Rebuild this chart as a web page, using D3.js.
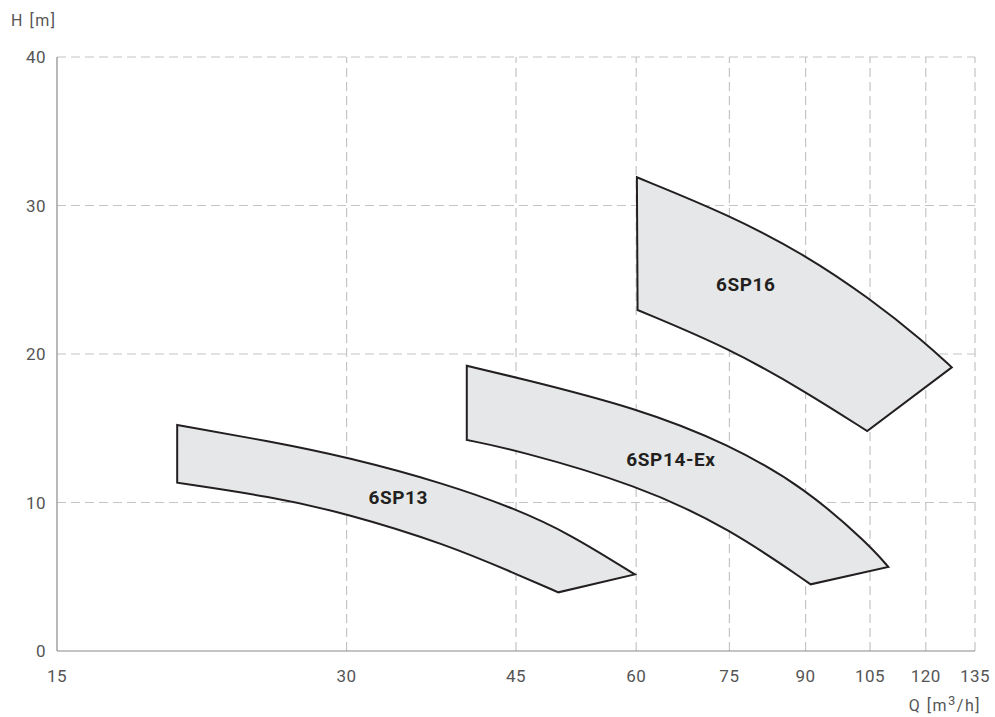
<!DOCTYPE html>
<html>
<head>
<meta charset="utf-8">
<script src="https://cdn.jsdelivr.net/npm/d3@7"></script>
<style>
  html, body { margin: 0; padding: 0; background: #fff; }
  svg { display: block; }
  text { font-family: Roboto, "DejaVu Sans", sans-serif; }
</style>
</head>
<body>
<svg id="chart" width="995" height="717"></svg>
<script>
// ---- data ----
const xTicks = [15, 30, 45, 60, 75, 90, 105, 120, 135];
const yTicks = [0, 10, 20, 30, 40];

const sp13Top    = [[20.0, 15.22], [25.0, 14.11], [30, 13.07], [38.1, 11.25], [45, 9.56], [51.1, 7.91], [59.8, 5.16]];
const sp13Bottom = [[20.0, 11.33], [25.0, 10.40], [30, 9.27], [38.1, 7.18], [45, 5.19], [49.8, 3.95]];

const sp14Top    = [[40.0, 19.21], [45, 18.43], [60.2, 16.36], [75, 13.91], [90, 10.96], [104.8, 7.15], [109.7, 5.66]];
const sp14Bottom = [[40.0, 14.21], [45, 13.54], [60.2, 11.18], [75, 8.26], [91.1, 4.49]];

const sp16Top    = [[60.1, 31.9], [75, 29.36], [90, 26.67], [104.9, 23.75], [119.5, 20.83], [127.7, 19.1]];
const sp16Bottom = [[60.2, 22.96], [75, 20.38], [90, 17.46], [104.3, 14.81]];

const seriesNames = ["6SP13", "6SP14-Ex", "6SP16"];
const labelPos = [[33.95, 10.34], [65.2, 12.93], [78, 24.7]];

// ---- chart ----
const svg = d3.select("#chart");
const x = d3.scaleLog().domain([15, 135]).range([57, 975]);
const y = d3.scaleLinear().domain([0, 40]).range([651, 57]);

const gridColor = "#c4c4c4";
// grid
svg.append("g").selectAll("line").data(xTicks.slice(1)).join("line")
  .attr("x1", d => x(d)).attr("x2", d => x(d))
  .attr("y1", y(0)).attr("y2", y(40))
  .attr("stroke", gridColor).attr("stroke-width", 1.2).attr("stroke-dasharray", "9,5");
svg.append("g").selectAll("line").data(yTicks.slice(1)).join("line")
  .attr("x1", x(15)).attr("x2", x(135))
  .attr("y1", d => y(d)).attr("y2", d => y(d))
  .attr("stroke", gridColor).attr("stroke-width", 1.2).attr("stroke-dasharray", "9,5");

// axes lines
svg.append("line").attr("x1", x(15)).attr("x2", x(15)).attr("y1", y(0)).attr("y2", y(40))
  .attr("stroke", "#8a8a8a").attr("stroke-width", 1.2);
svg.append("line").attr("x1", x(15)).attr("x2", x(135)).attr("y1", y(0)).attr("y2", y(0))
  .attr("stroke", "#8a8a8a").attr("stroke-width", 1.2);

// tick labels
svg.append("g").selectAll("text").data(xTicks).join("text")
  .attr("x", d => x(d)).attr("y", 682)
  .attr("text-anchor", "middle").attr("font-size", 17).attr("fill", "#555")
  .attr("letter-spacing", 0.5)
  .text(d => d);
svg.append("g").selectAll("text").data(yTicks).join("text")
  .attr("x", 46).attr("y", d => y(d) + 6)
  .attr("text-anchor", "end").attr("font-size", 17).attr("fill", "#555")
  .attr("letter-spacing", 0.5)
  .text(d => d);

// axis titles
svg.append("text").attr("x", 11).attr("y", 26).attr("font-size", 16).attr("fill", "#555")
  .attr("letter-spacing", 1.5).text("H [m]");
const qt = svg.append("text").attr("x", 981).attr("y", 711).attr("text-anchor", "end")
  .attr("font-size", 16).attr("fill", "#555").attr("letter-spacing", 1.5);
qt.append("tspan").text("Q [m");
qt.append("tspan").attr("dy", -6).attr("font-size", 13).text("3");
qt.append("tspan").attr("dy", 6).text("/h]");

// regions
const line = d3.line().x(d => x(d[0])).y(d => y(d[1])).curve(d3.curveBasis);
function regionPath(top, bottom) {
  const t = line(top);
  const b = line(bottom.slice().reverse());
  return t + "L" + b.slice(1) + "Z";
}
const regions = [[sp13Top, sp13Bottom], [sp14Top, sp14Bottom], [sp16Top, sp16Bottom]];
svg.append("g").selectAll("path").data(regions).join("path")
  .attr("d", d => regionPath(d[0], d[1]))
  .attr("fill", "#e6e7e8").attr("stroke", "#231f20").attr("stroke-width", 2)
  .attr("stroke-linejoin", "miter");

// labels
svg.append("g").selectAll("text").data(seriesNames).join("text")
  .attr("x", (d, i) => x(labelPos[i][0])).attr("y", (d, i) => y(labelPos[i][1]) + 7)
  .attr("text-anchor", "middle").attr("font-size", 19).attr("font-weight", "bold")
  .attr("letter-spacing", 0.6)
  .attr("fill", "#231f20")
  .text(d => d);
</script>
</body>
</html>
